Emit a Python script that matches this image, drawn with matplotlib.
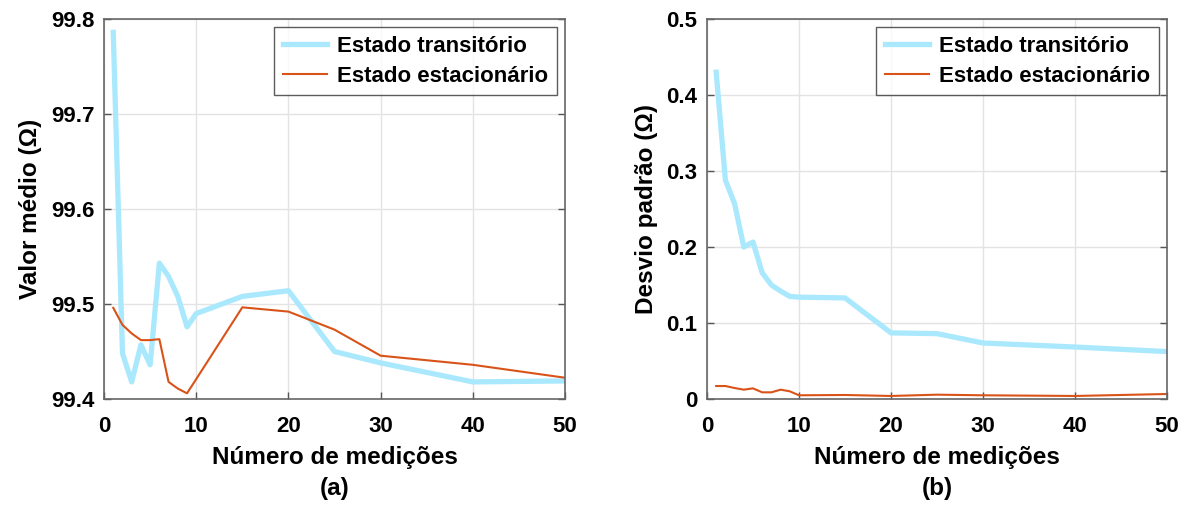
import matplotlib
matplotlib.use('Agg')
import matplotlib.pyplot as plt

# dados
n_med = [1, 2, 3, 4, 5, 6, 7, 8, 9, 10, 15, 20, 25, 30, 40, 50]

media_trans = [99.786, 99.448, 99.418, 99.457, 99.436, 99.543, 99.529, 99.508,
               99.476, 99.490, 99.508, 99.514, 99.450, 99.438, 99.418, 99.419]
media_estac = [99.496, 99.478, 99.469, 99.462, 99.462, 99.463, 99.418, 99.411,
               99.406, 99.421, 99.4965, 99.492, 99.473, 99.4456, 99.436, 99.4224]

desvio_trans = [0.430, 0.288, 0.257, 0.200, 0.2066, 0.166, 0.150, 0.142,
                0.135, 0.134, 0.133, 0.087, 0.086, 0.0737, 0.0684, 0.0624]
desvio_estac = [0.0171, 0.0171, 0.0145, 0.0123, 0.0140, 0.0088, 0.0088, 0.0123,
                0.0101, 0.0049, 0.0053, 0.0040, 0.0057, 0.0049, 0.0040, 0.0066]

xticks = [0, 10, 20, 30, 40, 50]

plt.rcParams['font.family'] = ['Liberation Sans', 'DejaVu Sans']
plt.rcParams['font.weight'] = 'bold'

azul = '#aae9fd'
laranja = '#d95319'

fig = plt.figure(figsize=(11.89, 5.07), dpi=100)
ax1 = fig.add_axes([0.0875, 0.213, 0.3877, 0.7495])
ax2 = fig.add_axes([0.5946, 0.213, 0.3870, 0.7495])


def estilo(ax, ylabel, letra):
    ax.set_xlim(0, 50)
    ax.set_xticks(xticks)
    ax.grid(True, color='#e3e3e3', linewidth=1)
    ax.set_axisbelow(True)
    ax.tick_params(direction='in', length=5, width=1, color='#555555',
                   labelsize=16, top=False, right=True)
    ax.tick_params(axis='x', pad=12)
    ax.tick_params(axis='y', pad=7)
    for lab in ax.get_xticklabels() + ax.get_yticklabels():
        lab.set_fontweight('bold')
    for sp in ax.spines.values():
        sp.set_color('#666666')
        sp.set_linewidth(1.2)
    ax.set_xlabel('Número de medições', fontsize=17.5, fontweight='bold', labelpad=7)
    ax.set_ylabel(ylabel, fontsize=17.5, fontweight='bold', labelpad=6)
    ax.text(0.5, -0.205, letra, transform=ax.transAxes, ha='center', va='top',
            fontsize=17.5, fontweight='bold')
    leg = ax.legend(loc='upper right', fontsize=16, frameon=True, fancybox=False,
                    borderaxespad=0.35, handlelength=2.0, handletextpad=0.45,
                    borderpad=0.4, labelspacing=0.4)
    leg.get_frame().set_edgecolor('#333333')
    leg.get_frame().set_linewidth(1.0)
    for t in leg.get_texts():
        t.set_fontweight('bold')


ax1.plot(n_med, media_trans, color=azul, linewidth=3.8, label='Estado transitório')
ax1.plot(n_med, media_estac, color=laranja, linewidth=1.5, label='Estado estacionário')
ax1.set_ylim(99.4, 99.8)
ax1.set_yticks([99.4, 99.5, 99.6, 99.7, 99.8])
estilo(ax1, 'Valor médio (Ω)', '(a)')

ax2.plot(n_med, desvio_trans, color=azul, linewidth=3.8, label='Estado transitório')
ax2.plot(n_med, desvio_estac, color=laranja, linewidth=1.5, label='Estado estacionário')
ax2.set_ylim(0, 0.5)
ax2.set_yticks([0, 0.1, 0.2, 0.3, 0.4, 0.5])
ax2.set_yticklabels(['0', '0.1', '0.2', '0.3', '0.4', '0.5'])
estilo(ax2, 'Desvio padrão (Ω)', '(b)')

fig.savefig('out.png', dpi=100)
